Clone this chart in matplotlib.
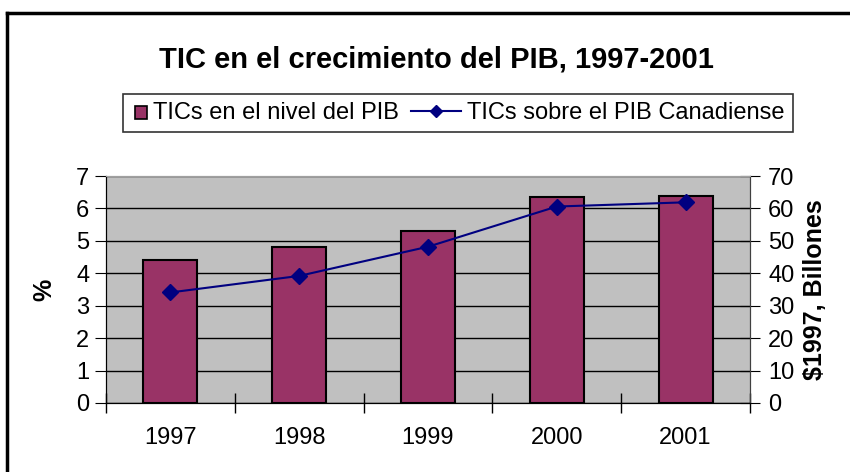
import matplotlib.pyplot as plt
from matplotlib.legend_handler import HandlerLine2D, HandlerPatch
from matplotlib.lines import Line2D
from matplotlib.patches import Rectangle

plt.rcParams["font.family"] = ["Liberation Sans", "DejaVu Sans"]

years = ["1997", "1998", "1999", "2000", "2001"]
pct_pib = [4.4, 4.8, 5.3, 6.35, 6.4]
bil_1997 = [34.1, 39.2, 48.2, 60.6, 61.9]

title = "TIC en el crecimiento del PIB, 1997-2001"
bar_label = "TICs en el nivel del PIB"
line_label = "TICs sobre el PIB Canadiense"


def square_patch(legend, orig_handle, xdescent, ydescent, width, height, fontsize):
    s = height * 0.75
    return Rectangle((width - s - xdescent, -ydescent + height * 0.02), s, s)


class LongLineHandler(HandlerLine2D):
    # legend line that reaches further left than the short handle box
    def create_artists(self, legend, orig_handle, xdescent, ydescent, width,
                       height, fontsize, trans):
        extra = 25
        return super().create_artists(legend, orig_handle, xdescent + extra,
                                      ydescent, width + extra, height,
                                      fontsize, trans)


fig = plt.figure(figsize=(8.5, 4.72), dpi=100)
ax = fig.add_axes([0.1247, 0.1462, 0.7576, 0.4808])
ax2 = ax.twinx()

x = range(len(years))
ax.bar(x, pct_pib, width=0.42, color="#993366", edgecolor="black",
       linewidth=1.5, zorder=3)
ax.set_facecolor("#C0C0C0")
ax.set_ylim(0, 7)
ax.set_xlim(-0.5, len(years) - 0.5)
ax.set_yticks(range(0, 8))
ax.yaxis.grid(True, color="black", linewidth=1)
ax.set_axisbelow(True)
ax.set_xticks(x)
ax.set_xticklabels(years, fontsize=17)
ax.set_xticks([i + 0.5 for i in range(-1, len(years))], minor=True)
ax.tick_params(axis="x", which="major", length=0, pad=17)
ax.tick_params(axis="x", which="minor", direction="inout", length=14, width=1)
ax.tick_params(axis="y", direction="out", length=8, labelsize=17, pad=4)
ax.set_ylabel("%", fontsize=18, fontweight="bold", labelpad=14)

ax2.plot(x, bil_1997, color="#000080", linewidth=1.5, marker="D",
         markersize=8, zorder=5)
ax2.set_ylim(0, 70)
ax2.set_yticks(range(0, 80, 10))
ax2.tick_params(axis="y", direction="inout", length=14, labelsize=17, pad=6)
ax2.set_ylabel("$1997, Billones", fontsize=18, fontweight="bold", labelpad=6)

for a in (ax, ax2):
    a.spines["top"].set_color("#A0A0A0")
    a.spines["left"].set_color("black")
    a.spines["bottom"].set_color("black")
    a.spines["right"].set_color("#404040")

fig.text(0.514, 0.873, title, ha="center", va="center", fontsize=21,
         fontweight="bold")

leg_bar = Rectangle((0, 0), 1, 1, facecolor="#993366", edgecolor="black",
                    linewidth=1.2)
leg_line = Line2D([], [], color="#000080", linewidth=1.5, marker="D", markersize=6)
leg = fig.legend([leg_bar, leg_line], [bar_label, line_label], ncol=2,
                 loc="center", bbox_to_anchor=(0.539, 0.7606), fontsize=17,
                 frameon=True, fancybox=False, edgecolor="black",
                 borderpad=0.35, borderaxespad=0, handlelength=0.65,
                 handletextpad=0.25, columnspacing=2.0,
                 handler_map={leg_bar: HandlerPatch(patch_func=square_patch),
                              leg_line: LongLineHandler()})
leg.get_frame().set_linewidth(1.2)

# outer chart frame (only left and top edges visible)
fig.add_artist(Line2D([7 / 850, 7 / 850], [0, 1 - 13 / 472], color="black",
                      linewidth=2.5, transform=fig.transFigure))
fig.add_artist(Line2D([7 / 850, 1], [1 - 13 / 472, 1 - 13 / 472], color="black",
                      linewidth=2.5, transform=fig.transFigure))

fig.savefig("out.png", dpi=100)
